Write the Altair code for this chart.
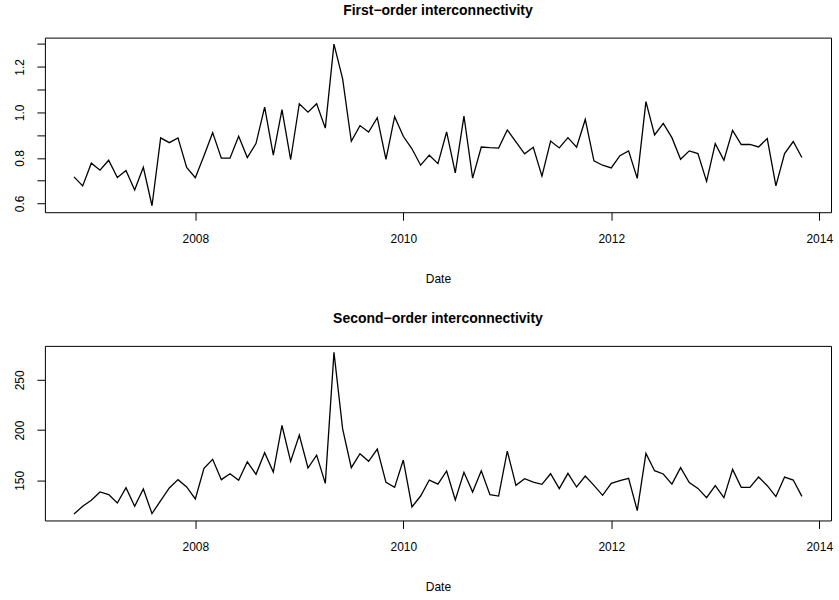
import altair as alt
import pandas as pd

# Monthly series, November 2006 through November 2013 (85 months)
start_year, start_month = 2006, 11

first_order = [
    0.717, 0.677, 0.777, 0.746, 0.790, 0.714, 0.745, 0.659, 0.759, 0.590,
    0.888, 0.867, 0.888, 0.758, 0.713, 0.810, 0.911, 0.799, 0.799, 0.895,
    0.802, 0.863, 1.023, 0.812, 1.012, 0.793, 1.038, 1.001, 1.038, 0.931,
    1.300, 1.147, 0.873, 0.942, 0.914, 0.977, 0.794, 0.981, 0.895, 0.840,
    0.768, 0.812, 0.775, 0.914, 0.734, 0.984, 0.711, 0.848, 0.845, 0.843,
    0.923, 0.870, 0.818, 0.847, 0.720, 0.874, 0.844, 0.889, 0.847, 0.969,
    0.787, 0.768, 0.756, 0.810, 0.831, 0.710, 1.047, 0.901, 0.952, 0.889,
    0.794, 0.831, 0.819, 0.697, 0.863, 0.790, 0.921, 0.859, 0.859, 0.848,
    0.885, 0.677, 0.819, 0.872, 0.802,
]

second_order = [
    116.5, 124.2, 130.1, 138.4, 135.8, 127.5, 142.7, 124.2, 141.4, 116.9,
    129.8, 142.4, 150.7, 143.4, 131.5, 161.9, 170.9, 150.7, 156.6, 150.0,
    168.5, 156.0, 177.5, 158.3, 204.6, 168.9, 195.0, 162.3, 175.1, 147.0,
    277.4, 201.3, 162.6, 176.5, 168.9, 181.1, 148.0, 143.0, 170.2, 123.5,
    134.4, 150.3, 146.3, 159.3, 130.5, 158.0, 138.4, 159.6, 135.8, 134.4,
    179.1, 145.0, 151.7, 148.3, 146.0, 156.6, 141.7, 157.0, 143.4, 154.3,
    145.0, 135.1, 147.0, 149.7, 152.0, 119.9, 176.8, 159.6, 156.3, 146.3,
    162.6, 147.7, 142.0, 132.8, 144.7, 132.8, 160.9, 143.0, 143.0, 153.3,
    144.7, 133.8, 153.3, 150.3, 134.1,
]

year_ticks = [2008, 2010, 2012, 2014]
first_ticks = [0.6, 0.7, 0.8, 0.9, 1.0, 1.1, 1.2, 1.3]
second_ticks = [150, 200, 250]

# decimal-year time index, as a monthly ts would use
time = [start_year + (start_month - 1 + i) / 12 for i in range(len(first_order))]

df = pd.DataFrame({"Date": time, "first": first_order, "second": second_order})


def padded(lo, hi, frac=0.04):
    ext = (hi - lo) * frac
    return [lo - ext, hi + ext]


x_domain = padded(min(time), max(time))
FONT = "Liberation Sans"
W, H = 788, 175


def panel(field, title, ticks, label_expr):
    return (
        alt.Chart(df)
        .mark_line(color="black", strokeWidth=1.3)
        .encode(
            x=alt.X(
                "Date:Q",
                scale=alt.Scale(domain=x_domain, nice=False, zero=False),
                axis=alt.Axis(
                    values=year_ticks, format="d", title="Date", grid=False,
                    titlePadding=29, labelPadding=13,
                ),
            ),
            y=alt.Y(
                f"{field}:Q",
                scale=alt.Scale(domain=padded(min(df[field]), max(df[field])),
                                nice=False, zero=False),
                axis=alt.Axis(
                    values=ticks, title=None, grid=False, labelAngle=-90,
                    labelAlign="center", labelBaseline="bottom",
                    labelPadding=10, labelExpr=label_expr,
                ),
            ),
        )
        .properties(
            width=W, height=H,
            title=alt.TitleParams(title, fontSize=14, fontWeight="bold",
                                  font=FONT, offset=20, anchor="middle",
                                  color="black"),
        )
    )


top = panel("first", "First\u2212order interconnectivity", first_ticks,
            "round(datum.value*10) % 2 == 0 ? format(datum.value, '.1f') : ''")
bottom = panel("second", "Second\u2212order interconnectivity", second_ticks,
               "datum.label")

chart = (
    alt.vconcat(top, bottom, spacing=26, background="white")
    .properties(padding={"left": 13, "top": 2, "right": 5, "bottom": 2})
    .configure_view(stroke="black", strokeWidth=1)
    .configure_axis(
        grid=False, domain=False, tickColor="black", tickSize=8,
        tickWidth=1, labelColor="black", labelFont=FONT, labelFontSize=12,
        titleFont=FONT, titleFontSize=12, titleFontWeight="normal",
        titleColor="black",
    )
)

chart.save("out.html", embed_options={"renderer": "svg", "actions": False})
